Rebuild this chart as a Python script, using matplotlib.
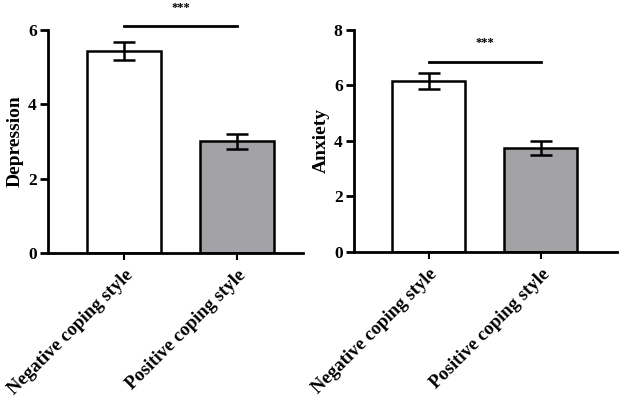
import matplotlib.pyplot as plt
import numpy as np

categories = ["Negative coping style", "Positive coping style"]
depression_mean = [5.43, 3.0]
depression_sem = [0.25, 0.2]
anxiety_mean = [6.15, 3.73]
anxiety_sem = [0.28, 0.24]
bar_colors = ["white", "#a3a3a7"]

plt.rcParams['font.family'] = 'Liberation Serif'
plt.rcParams['font.weight'] = 'bold'

fig = plt.figure(figsize=(6.24, 3.99), dpi=100)
ax1 = fig.add_axes([0.0769, 0.366, 0.4087, 0.559])
ax2 = fig.add_axes([0.567, 0.369, 0.4215, 0.557])


def panel(ax, means, sems, ylabel, ymax, xmax, sig_y, star_y):
    x = np.arange(len(categories))
    ax.bar(x, means, width=0.65, color=bar_colors, edgecolor='black',
           linewidth=1.8, zorder=2)
    ax.errorbar(x, means, yerr=sems, fmt='none', ecolor='black',
                elinewidth=1.8, capsize=8, capthick=1.8, zorder=3)
    ax.set_xlim(-0.67, xmax)
    ax.set_ylim(0, ymax)
    ax.set_yticks(np.arange(0, ymax + 1, 2))
    ax.set_xticks(x)
    ax.set_xticklabels(categories, rotation=45, ha='right',
                       rotation_mode='anchor', fontsize=13.5, fontweight='bold')
    ax.set_ylabel(ylabel, fontsize=14, fontweight='bold', labelpad=3)
    for s in ['top', 'right']:
        ax.spines[s].set_visible(False)
    for s in ['left', 'bottom']:
        ax.spines[s].set_linewidth(2)
    ax.tick_params(axis='y', width=2, length=6, labelsize=12.5, pad=2)
    ax.tick_params(axis='x', width=1.5, length=5, pad=5)
    ax.plot(x, [sig_y, sig_y], color='black', lw=2, clip_on=False)
    ax.text(x.mean(), star_y, '***', ha='center', va='center',
            fontsize=9, clip_on=False)


panel(ax1, depression_mean, depression_sem, 'Depression', 6, 1.58, 6.1, 6.6)
panel(ax2, anxiety_mean, anxiety_sem, 'Anxiety', 8, 1.68, 6.83, 7.5)

fig.savefig('out.png', dpi=100)
